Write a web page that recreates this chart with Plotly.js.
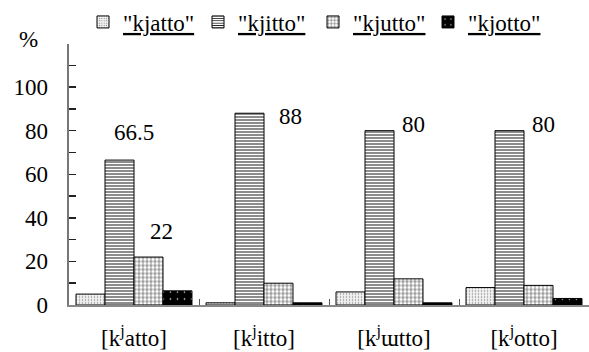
<!DOCTYPE html>
<html>
<head>
<meta charset="utf-8">
<script src="https://cdn.plot.ly/plotly-3.0.1.min.js"></script>
<style>
html,body{margin:0;padding:0;background:#fff;}
#chart text { fill: #000 !important; font-family: 'Liberation Serif', 'Times New Roman', serif !important; }
</style>
</head>
<body>
<div id="chart" style="width:589px;height:352px;"></div>
<script>
// ---- data ----
const categories = ['[k<sup>j</sup>atto]', '[k<sup>j</sup>itto]', '[k<sup>j</sup>ɯtto]', '[k<sup>j</sup>otto]'];
const seriesNames = ['"kjatto"', '"kjitto"', '"kjutto"', '"kjotto"'];
const kjatto = [5, 1, 6, 8];
const kjitto = [66.5, 88, 80, 80];
const kjutto = [22, 10, 12, 9];
const kjotto = [6.5, 1, 1, 3];
const yTickVals = [0, 20, 40, 60, 80, 100, 120];
const yTickText = ['0', '20', '40', '60', '80', '100', ''];
// value labels drawn on the chart: [series index, category index]
const labelSeries = [1, 2, 1, 1, 1];
const labelCats = [0, 0, 1, 2, 3];

// ---- styling ----
const FONT = 'Liberation Serif';
const seriesValues = [kjatto, kjitto, kjutto, kjotto];
const patterns = [
  {shape: '.', fgcolor: '#888', bgcolor: '#f2f2f2', size: 3, solidity: 0.2},
  {shape: '-', fgcolor: '#000', bgcolor: '#ffffff', size: 3, solidity: 0.3},
  {shape: '+', fgcolor: '#000', bgcolor: '#ffffff', size: 4, solidity: 0.2},
  {shape: '.', fgcolor: '#ffffff', bgcolor: '#000000', size: 7, solidity: 0.04}
];
const labelShifts = [[0, 28], [27, 26], [26, -3], [19, 6], [19, 6]];

const traces = seriesValues.map((vals, i) => ({
  type: 'bar',
  name: '<u>' + seriesNames[i] + '</u>',
  x: categories,
  y: vals,
  marker: {
    color: patterns[i].bgcolor,
    pattern: patterns[i],
    line: {color: '#000', width: 1}
  },
  hoverinfo: 'none'
}));

const annotations = labelSeries.map((s, k) => ({
  x: categories[labelCats[k]],
  y: seriesValues[s][labelCats[k]],
  xref: 'x', yref: 'y',
  text: String(seriesValues[s][labelCats[k]]),
  showarrow: false,
  xanchor: 'center', yanchor: 'middle',
  xshift: labelShifts[k][0],
  yshift: labelShifts[k][1],
  font: {family: FONT, size: 23}
}));
annotations.push({
  xref: 'paper', yref: 'paper',
  x: (28 - 69) / 520, y: (305 - 37) / 264,
  xanchor: 'center', yanchor: 'middle',
  text: '%', showarrow: false,
  font: {family: FONT, size: 23}
});

const layout = {
  width: 589, height: 352,
  margin: {l: 69, r: 0, t: 41, b: 47},
  paper_bgcolor: '#fff', plot_bgcolor: '#fff',
  font: {family: FONT, size: 23},
  barmode: 'group',
  bargap: 0.108,
  bargroupgap: 0,
  showlegend: true,
  legend: {
    orientation: 'h',
    xref: 'container', yref: 'container',
    x: 83 / 589, xanchor: 'left',
    y: 1 - 22 / 352, yanchor: 'middle',
    entrywidth: 70, entrywidthmode: 'pixels',
    font: {family: FONT, size: 23},
    bgcolor: 'rgba(0,0,0,0)'
  },
  xaxis: {
    type: 'category',
    range: [-0.5, 3.5],
    showline: true, linecolor: '#888', linewidth: 1.5,
    ticks: 'inside', tickson: 'boundaries', ticklen: 6, tickcolor: '#555', tickwidth: 1,
    showgrid: false, zeroline: false,
    tickfont: {family: FONT, size: 23},
    ticklabelstandoff: 12
  },
  yaxis: {
    range: [0, 120],
    tickvals: yTickVals, ticktext: yTickText,
    showline: true, linecolor: '#777', linewidth: 2.5,
    ticks: 'inside', ticklen: 7, tickcolor: '#222', tickwidth: 1.5,
    minor: {dtick: 10, ticks: 'inside', ticklen: 7, tickcolor: '#222', tickwidth: 1.5, showgrid: false},
    showgrid: false, zeroline: false,
    tickfont: {family: FONT, size: 23},
    ticklabelstandoff: 14
  },
  annotations: annotations
};

Plotly.newPlot('chart', traces, layout, {displayModeBar: false, staticPlot: true});
</script>
</body>
</html>
